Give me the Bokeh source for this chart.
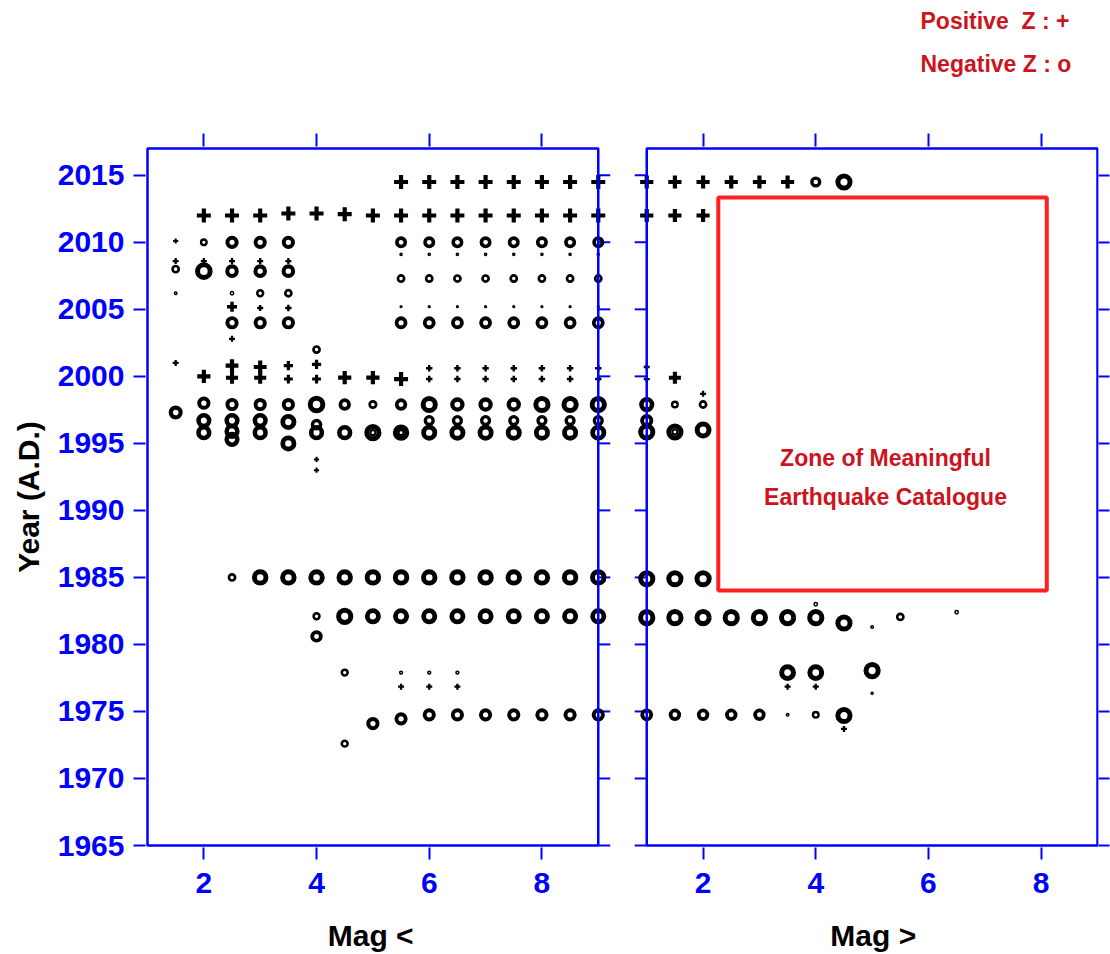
import numpy as np
from bokeh.plotting import figure
from bokeh.models import (Range1d, FixedTicker, LinearAxis, BoxAnnotation, Label, Title,
                          ColumnDataSource, CustomJSTickFormatter)
from bokeh.embed import file_html
from bokeh.resources import INLINE

# ---------------- data ----------------
# Left panel: "Mag <"
left_mag = [
    5.5, 6, 6.5, 7, 7.5, 8, 8.5, 9,
    2, 2.5, 3, 3.5, 4, 4.5, 5, 5.5, 6, 6.5, 7, 7.5, 8, 8.5, 9,
    1.5, 2, 2.5, 3, 3.5, 5.5, 6, 6.5, 7, 7.5, 8, 8.5, 9,
    5.5, 6, 6.5, 7, 7.5, 8, 8.5, 9,
    1.5, 2, 2.5, 3, 3.5,
    1.5, 2, 2.5, 3, 3.5,
    5.5, 6, 6.5, 7, 7.5, 8, 8.5, 9,
    1.5, 2.5, 3, 3.5,
    2.5, 3, 3.5, 5.5, 6, 6.5, 7, 7.5, 8, 8.5, 9,
    2.5, 3, 3.5, 5.5, 6, 6.5, 7, 7.5, 8, 8.5, 9,
    2.5, 4, 1.5,
    2.5, 3, 3.5, 4, 6, 6.5, 7, 7.5, 8, 8.5, 9,
    2, 2.5, 3, 3.5, 4, 4.5, 5, 5.5, 6, 6.5, 7, 7.5, 8, 8.5, 9,
    1.5, 2, 2.5, 3, 3.5, 4, 4.5, 5, 5.5, 6, 6.5, 7, 7.5, 8, 8.5, 9,
    2, 2.5, 3, 3.5, 4, 6, 6.5, 7, 7.5, 8, 8.5, 9,
    2, 2.5, 2.5, 3, 3.5, 4, 4.5, 5, 5, 5.5, 5.5, 6, 6.5, 7, 7.5, 8, 8.5, 9,
    4, 4,
    2.5, 3, 3.5, 4, 4.5, 5, 5.5, 6, 6.5, 7, 7.5, 8, 8.5, 9,
    4, 4.5, 5, 5.5, 6, 6.5, 7, 7.5, 8, 8.5, 9,
    4,
    4.5, 5.5, 6, 6.5,
    5.5, 6, 6.5,
    5, 5.5, 6, 6.5, 7, 7.5, 8, 8.5, 9,
    4.5,
]
left_year = [
    2014.5, 2014.5, 2014.5, 2014.5, 2014.5, 2014.5, 2014.5, 2014.5,
    2012.0, 2012.0, 2012.0, 2012.15, 2012.15, 2012.1, 2012.0, 2012.0, 2012.0, 2012.0, 2012.0, 2012.0, 2012.0, 2012.0, 2012.0,
    2010.1, 2010.0, 2010.0, 2010.0, 2010.0, 2010.0, 2010.0, 2010.0, 2010.0, 2010.0, 2010.0, 2010.0, 2010.0,
    2009.1, 2009.1, 2009.1, 2009.1, 2009.1, 2009.1, 2009.1, 2009.1,
    2008.6, 2008.6, 2008.6, 2008.6, 2008.6,
    2008.0, 2007.85, 2007.85, 2007.85, 2007.85,
    2007.3, 2007.3, 2007.3, 2007.3, 2007.3, 2007.3, 2007.3, 2007.3,
    2006.2, 2006.2, 2006.2, 2006.2,
    2005.2, 2005.1, 2005.1, 2005.2, 2005.2, 2005.2, 2005.2, 2005.2, 2005.2, 2005.2, 2005.2,
    2004.0, 2004.0, 2004.0, 2004.0, 2004.0, 2004.0, 2004.0, 2004.0, 2004.0, 2004.0, 2004.0,
    2002.8, 2002.0, 2001.0,
    2000.8, 2000.7, 2000.8, 2000.9, 2000.6, 2000.6, 2000.6, 2000.6, 2000.6, 2000.6, 2000.6,
    2000.0, 1999.9, 1999.9, 1999.8, 1999.8, 1999.9, 1999.9, 1999.8, 1999.8, 1999.8, 1999.8, 1999.8, 1999.8, 1999.8, 1999.8,
    1997.3, 1998.0, 1997.9, 1997.9, 1997.9, 1997.9, 1997.9, 1997.9, 1997.9, 1997.9, 1997.9, 1997.9, 1997.9, 1997.9, 1997.9, 1997.9,
    1996.7, 1996.7, 1996.7, 1996.6, 1996.4, 1996.7, 1996.7, 1996.7, 1996.7, 1996.7, 1996.7, 1996.7,
    1995.8, 1995.9, 1995.3, 1995.8, 1995.0, 1995.8, 1995.8, 1995.8, 1995.8, 1995.8, 1995.8, 1995.8, 1995.8, 1995.8, 1995.8, 1995.8, 1995.8, 1995.8,
    1993.8, 1993.0,
    1985.0, 1985.0, 1985.0, 1985.0, 1985.0, 1985.0, 1985.0, 1985.0, 1985.0, 1985.0, 1985.0, 1985.0, 1985.0, 1985.0,
    1982.1, 1982.1, 1982.1, 1982.1, 1982.1, 1982.1, 1982.1, 1982.1, 1982.1, 1982.1, 1982.1,
    1980.6,
    1977.9, 1977.9, 1977.9, 1977.9,
    1976.85, 1976.85, 1976.85,
    1974.1, 1974.45, 1974.75, 1974.75, 1974.75, 1974.75, 1974.75, 1974.75, 1974.75,
    1972.6,
]
left_z = [
    3.5, 3.5, 3.5, 3.5, 3.5, 3.5, 3.5, 3.5,
    3.5, 3.5, 3.5, 3.5, 3.5, 3.5, 3.5, 3.5, 3.5, 3.5, 3.5, 3.5, 3.5, 3.5, 3.5,
    1.3, -2.0, -3.3, -3.3, -3.3, -3.0, -3.0, -3.0, -3.0, -3.0, -3.0, -3.0, -3.0,
    -0.9, -0.9, -0.9, -0.9, -0.9, -0.9, -0.9, -0.9,
    1.5, 1.5, 1.5, 1.5, 1.5,
    -2.2, -4.4, -3.4, -3.4, -3.4,
    -2.2, -2.2, -2.2, -2.2, -2.2, -2.2, -2.2, -2.2,
    -1.0, -1.2, -2.1, -2.2,
    2.5, 1.5, 1.6, -0.8, -0.8, -0.8, -0.8, -0.8, -0.8, -0.8, -0.8,
    -3.3, -3.3, -3.3, -3.2, -3.2, -3.2, -3.2, -3.2, -3.2, -3.2, -3.2,
    1.5, -2.2, 1.5,
    3.2, 3.2, 2.3, 2.3, 1.6, 1.6, 1.6, 1.6, 1.6, 1.6, 1.6,
    3.3, 3.0, 3.0, 2.2, 2.2, 3.3, 3.3, 3.5, 1.6, 1.6, 1.6, 1.6, 1.6, 1.6, 1.6,
    -3.5, -3.3, -3.3, -3.3, -3.3, -4.4, -3.1, -2.3, -3.1, -4.3, -3.6, -3.6, -3.6, -4.3, -4.3, -4.3,
    -3.8, -3.8, -3.8, -4.0, -2.9, -2.8, -2.8, -2.8, -2.8, -2.8, -2.8, -2.8,
    -3.8, -3.8, -3.8, -3.8, -4.0, -3.8, -3.8, -4.3, -1.8, -4.1, -1.8, -4.0, -4.0, -4.0, -4.0, -4.0, -4.0, -4.0,
    1.3, 1.3,
    -2.2, -4.1, -4.1, -4.1, -4.1, -4.1, -4.1, -4.1, -4.1, -4.1, -4.1, -4.1, -4.1, -4.1,
    -2.1, -4.3, -4.0, -4.0, -4.0, -4.0, -4.0, -4.0, -4.0, -4.0, -4.0,
    -3.1,
    -2.1, -1.1, -1.1, -1.1,
    1.5, 1.5, 1.5,
    -3.3, -3.3, -3.3, -3.3, -3.3, -3.3, -3.3, -3.3, -3.3,
    -2.1,
]

# Right panel: "Mag >"
right_mag = [
    1, 1.5, 2, 2.5, 3, 3.5, 4, 4.5,
    1, 1.5, 2,
    1, 1, 1.5, 2,
    1, 1.5, 2,
    1,
    1, 1.5, 1.5, 2,
    1, 1.5, 2,
    1, 1.5, 2, 2.5, 3, 3.5, 4,
    4, 4.5, 5, 5.5, 6.5,
    3.5, 4, 5,
    3.5, 4, 5,
    1, 1.5, 2, 2.5, 3, 3.5, 4, 4.5,
    4.5,
]
right_year = [
    2014.5, 2014.5, 2014.5, 2014.5, 2014.5, 2014.5, 2014.5, 2014.5,
    2012.0, 2012.0, 2012.0,
    2000.7, 1999.8, 1999.9, 1998.7,
    1997.9, 1997.9, 1997.9,
    1996.7,
    1995.85, 1995.85, 1995.85, 1996.0,
    1984.9, 1984.9, 1984.9,
    1982.0, 1982.0, 1982.0, 1982.0, 1982.0, 1982.0, 1982.0,
    1983.0, 1981.6, 1981.3, 1982.05, 1982.4,
    1977.9, 1977.9, 1978.05,
    1976.85, 1976.85, 1976.35,
    1974.75, 1974.75, 1974.75, 1974.75, 1974.75, 1974.75, 1974.75, 1974.7,
    1973.7,
]
right_z = [
    3.3, 3.3, 3.3, 3.3, 3.3, 3.3, -2.8, -4.3,
    3.3, 3.3, 3.3,
    1.5, 1.5, 3.0, 1.5,
    -3.8, -2.0, -2.2,
    -3.3,
    -4.3, -4.3, -1.8, -4.2,
    -4.3, -4.3, -4.3,
    -4.3, -4.3, -4.3, -4.3, -4.3, -4.3, -4.3,
    -1.2, -4.3, -1.0, -2.2, -1.2,
    -4.2, -4.2, -4.3,
    1.5, 1.5, -0.9,
    -3.2, -3.1, -3.1, -3.1, -3.1, -1.0, -2.0, -4.3,
    1.5,
]

year_ticks = [1965, 1970, 1975, 1980, 1985, 1990, 1995, 2000, 2005, 2010, 2015]
mag_ticks = [2, 4, 6, 8]
mag_lo, mag_hi = 1, 9
year_lo, year_hi = 1965, 2017

# zone of meaningful catalogue (right panel)
zone_mag = (2.27, 8.10)
zone_year = (1984.03, 2013.34)

assert len(left_mag) == len(left_year) == len(left_z)
assert len(right_mag) == len(right_year) == len(right_z)

# ---------------- layout constants ----------------
BLUE = "#0000ff"
RED_TXT = "#cc1420"
RED_BOX = "#ff2020"
FONT = "Liberation Sans"
NB = "\u00a0"
GAP = 0.86                      # gap between panels in magnitude units
OFF = (mag_hi - mag_lo) + GAP   # x offset of right panel
BOX_W, BOX_H = 950, 697         # pixel size of the two-panel block
BOX_L, BOX_T = 147, 148         # pixel position of the block
PAD_L, PAD_R, PAD_T, PAD_B = 2, 1, 2, 2   # frame padding so the blue frames are not clipped
PX = BOX_W / (2 * (mag_hi - mag_lo) + GAP)
PY = BOX_H / (year_hi - year_lo)
W, H = 1110, 954
frame_w = BOX_W + PAD_L + PAD_R
frame_h = BOX_H + PAD_T + PAD_B
LB = BOX_L - PAD_L
TB = BOX_T - PAD_T
RB = W - LB - frame_w
BB = H - TB - frame_h

p = figure(width=W, height=H, title_location=None,
           x_range=Range1d(mag_lo - PAD_L / PX, mag_hi + OFF + PAD_R / PX),
           y_range=Range1d(year_lo - PAD_B / PY, year_hi + PAD_T / PY),
           output_backend="svg", toolbar_location=None,
           min_border_left=LB, min_border_right=RB, min_border_top=TB, min_border_bottom=BB)
p.outline_line_color = None
p.grid.visible = False
p.background_fill_color = "white"
p.border_fill_color = "white"

xt = FixedTicker(ticks=mag_ticks + [t + OFF for t in mag_ticks])
yt = FixedTicker(ticks=year_ticks)

xa = p.xaxis[0]
xa.ticker = xt
xa.formatter = CustomJSTickFormatter(
    code=f"return String(Math.round(tick > {mag_hi + GAP / 2} ? tick - {OFF} : tick));")
ya = p.yaxis[0]
ya.ticker = yt
for ax in (xa, ya):
    ax.axis_line_color = None
    ax.major_tick_out = 12
    ax.major_tick_in = 0
    ax.major_tick_line_color = BLUE
    ax.major_tick_line_width = 2
    ax.minor_tick_line_color = None
    ax.major_label_text_color = BLUE
    ax.major_label_text_font = FONT
    ax.major_label_text_font_style = "bold"
    ax.major_label_text_font_size = "30px"
ya.major_label_standoff = 9
xa.major_label_standoff = 13
ya.axis_label = "Year (A.D.)"
ya.axis_label_text_font = FONT
ya.axis_label_text_font_style = "bold"
ya.axis_label_text_font_size = "30px"
ya.axis_label_text_color = "black"
ya.axis_label_standoff = 10
xa.axis_label = "Mag <" + NB * 50 + "Mag >"
xa.axis_label_text_font = FONT
xa.axis_label_text_font_style = "bold"
xa.axis_label_text_font_size = "30px"
xa.axis_label_text_color = "black"
xa.axis_label_standoff = 23

# top axis: ticks only; its (blank) label reserves room below the legend lines
top = LinearAxis(ticker=xt, axis_line_color=None, major_tick_out=13, major_tick_in=0,
                 major_tick_line_color=BLUE, major_tick_line_width=2, minor_tick_line_color=None,
                 major_label_text_font_size="0px", major_label_text_alpha=0, major_label_standoff=0,
                 axis_label=NB, axis_label_text_font_size="1px", axis_label_standoff=36)
p.add_layout(top, "above")
right = LinearAxis(ticker=yt, axis_line_color=None, major_tick_out=11, major_tick_in=0,
                   major_tick_line_color=BLUE, major_tick_line_width=2, minor_tick_line_color=None,
                   major_label_text_font_size="0px", major_label_text_alpha=0, major_label_standoff=0)
p.add_layout(right, "right")

# legend lines (outside the frame, stacked above the top axis)
leg_common = dict(align="left", offset=920 - LB, text_font=FONT, text_font_style="bold",
                  text_font_size="23px", text_color=RED_TXT)
p.add_layout(Title(text="Negative Z : o", standoff=34, **leg_common), "above")
p.add_layout(Title(text="Positive " + NB + "Z : +", standoff=-4, **leg_common), "above")

# panel frames
for dx in (0, OFF):
    p.add_layout(BoxAnnotation(left=mag_lo + dx, right=mag_hi + dx, bottom=year_lo, top=year_hi,
                               fill_color=None, fill_alpha=0, line_color=BLUE, line_alpha=1.0,
                               line_width=2.5))

# inner-edge ticks (outward into the gap)
tl = 12 / PX
p.segment(x0=[mag_hi] * len(year_ticks) + [mag_lo + OFF - tl] * len(year_ticks),
          x1=[mag_hi + tl] * len(year_ticks) + [mag_lo + OFF] * len(year_ticks),
          y0=year_ticks + year_ticks, y1=year_ticks + year_ticks,
          line_color=BLUE, line_width=2)

# zone rectangle
p.add_layout(BoxAnnotation(left=zone_mag[0] + OFF, right=zone_mag[1] + OFF,
                           bottom=zone_year[0], top=zone_year[1],
                           fill_color=None, fill_alpha=0, line_color=RED_BOX, line_alpha=1.0,
                           line_width=4))

# markers: sign of Z -> symbol, |Z| -> size
xs = np.array(left_mag + [m + OFF for m in right_mag], dtype=float)
ys = np.array(left_year + right_year, dtype=float)
zs = np.array(left_z + right_z, dtype=float)
outer = 4.0 * np.abs(zs)

neg = zs < 0
c_lw = np.clip(0.3 * outer[neg], 1.5, 5.0)
circ = ColumnDataSource(dict(x=xs[neg], y=ys[neg], s=outer[neg] - c_lw, lw=c_lw))
pos = zs > 0
x_lw = np.clip(0.3 * outer[pos] + 0.5, 2.0, 4.2)
crs = ColumnDataSource(dict(x=xs[pos], y=ys[pos], s=outer[pos], lw=x_lw))

p.scatter("x", "y", source=circ, marker="circle", size="s", line_width="lw",
          line_color="black", fill_color=None)
p.scatter("x", "y", source=crs, marker="cross", size="s", line_width="lw",
          line_color="black")

# zone text (inside the frame)
for txt, py in (("Zone of Meaningful", 457), ("Earthquake Catalogue", 496)):
    p.add_layout(Label(x=mag_lo + (885 - BOX_L) / PX, y=year_hi - (py - BOX_T) / PY, text=txt,
                       text_font=FONT, text_font_style="bold", text_font_size="23px",
                       text_color=RED_TXT, text_align="center", text_baseline="middle"))

open("out.html", "w").write(file_html(p, INLINE))
